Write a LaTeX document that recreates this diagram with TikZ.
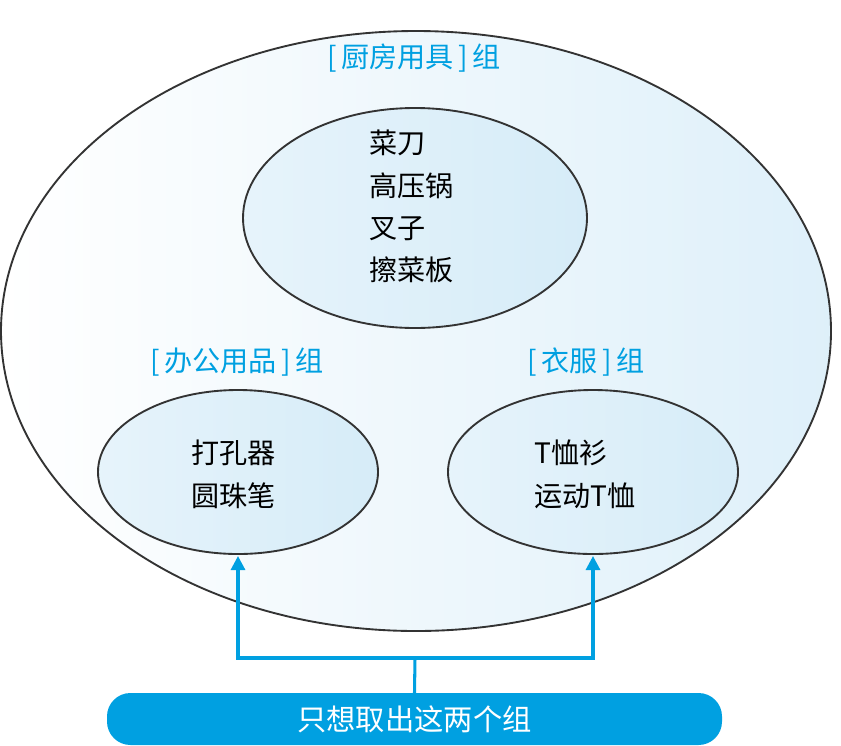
\documentclass[tikz,border=0pt]{standalone}
\usepackage{fontspec}
\setmainfont{Noto Sans CJK SC}
\usetikzlibrary{arrows.meta}
\definecolor{groupblue}{RGB}{0,160,225}
\definecolor{paleblue}{RGB}{214,236,248}
\begin{document}
\begin{tikzpicture}[x=0.03cm,y=-0.03cm]
 	\tikzset{every node/.style={inner sep=0pt},
 	  grouptitle/.style={text=groupblue,font=\fontsize{24}{28}\selectfont},
 	  items/.style={align=left,font=\fontsize{24}{36}\selectfont,anchor=north west},
 	  setline/.style={draw=black!80,line width=1.6pt},
 	  pick/.style={draw=groupblue,line width=2.6pt,-{Triangle[length=12pt,width=12pt]}}}
 	\useasboundingbox (0,0) rectangle (841,745);
 	\draw [setline,left color=white,right color=paleblue!80] (416,331) ellipse [x radius=415,y radius=300];
 	\node [grouptitle] (kitchentitle) at (414,58) {[\,厨房用具\,]\,组};
 	\draw [setline,left color=paleblue!60,right color=paleblue] (415,218) ellipse [x radius=172,y radius=110];
 	\node [items] (kitchen) at (369,130) {菜刀\\高压锅\\叉子\\擦菜板};
 	\node [grouptitle] (officetitle) at (237,362) {[\,办公用品\,]\,组};
 	\draw [setline,left color=paleblue!60,right color=paleblue] (238,472) ellipse [x radius=140,y radius=82];
 	\coordinate (officebottom) at (238,556);
 	\node [items] (office) at (191,440) {打孔器\\圆珠笔};
 	\node [grouptitle] (clothestitle) at (586,362) {[\,衣服\,]\,组};
 	\draw [setline,left color=paleblue!60,right color=paleblue] (593,472) ellipse [x radius=145,y radius=82];
 	\coordinate (clothesbottom) at (593,556);
 	\node [items] (clothes) at (534,440) {T恤衫\\运动T恤};
 	\node [fill=groupblue,rounded corners=20pt,minimum width=615*0.03cm,minimum height=52*0.03cm,
 	  text=white,font=\fontsize{25}{28}\selectfont] (query) at (414.5,719) {只想取出这两个组};
 	\coordinate (fork) at (415,658);
 	\draw [draw=groupblue,line width=2.6pt] (query.north) -- (fork);
 	\draw [pick] (fork) -| (officebottom);
 	\draw [pick] (fork) -| (clothesbottom);
\end{tikzpicture}
\end{document}
